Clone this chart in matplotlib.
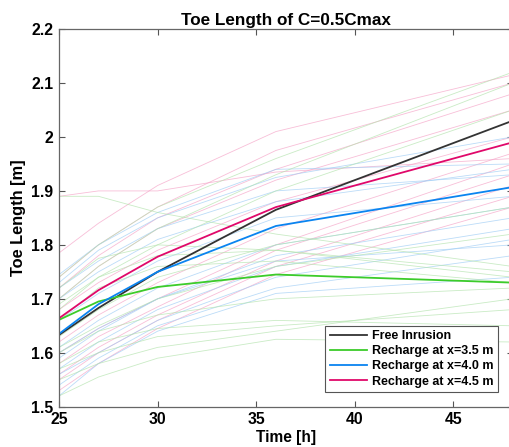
import matplotlib
matplotlib.use("Agg")
import matplotlib.pyplot as plt

plt.rcParams['font.family'] = ['Liberation Sans', 'DejaVu Sans']
plt.rcParams['font.weight'] = 'bold'

time_h = [25, 27, 30, 36, 48]

free_inrusion = [1.633, 1.683, 1.750, 1.865, 2.030]
recharge_35 = [1.661, 1.695, 1.722, 1.745, 1.730]
recharge_40 = [1.635, 1.690, 1.750, 1.835, 1.907]
recharge_45 = [1.664, 1.716, 1.778, 1.870, 1.990]

bg_pink = [
    [1.89, 1.90, 1.90, 1.935, 1.96],
    [1.785, 1.84, 1.91, 2.01, 2.115],
    [1.74, 1.80, 1.87, 1.975, 2.10],
    [1.72, 1.78, 1.85, 1.94, 2.08],
    [1.70, 1.76, 1.83, 1.92, 2.05],
    [1.60, 1.645, 1.70, 1.80, 1.95],
    [1.58, 1.63, 1.685, 1.79, 1.93],
    [1.56, 1.61, 1.67, 1.77, 1.91],
    [1.55, 1.60, 1.66, 1.76, 1.89],
    [1.53, 1.58, 1.645, 1.745, 1.87],
    [1.68, 1.73, 1.79, 1.88, 2.00],
    [1.62, 1.67, 1.73, 1.83, 1.97],
]
bg_blue = [
    [1.745, 1.80, 1.86, 1.94, 1.95],
    [1.73, 1.79, 1.85, 1.925, 2.00],
    [1.72, 1.77, 1.83, 1.90, 1.93],
    [1.70, 1.75, 1.81, 1.88, 1.94],
    [1.66, 1.71, 1.77, 1.85, 1.89],
    [1.61, 1.66, 1.72, 1.80, 1.87],
    [1.59, 1.64, 1.70, 1.78, 1.85],
    [1.57, 1.62, 1.68, 1.76, 1.83],
    [1.56, 1.60, 1.66, 1.74, 1.81],
    [1.54, 1.59, 1.65, 1.72, 1.78],
    [1.52, 1.58, 1.64, 1.71, 1.74],
    [1.60, 1.645, 1.70, 1.77, 1.80],
]
bg_green = [
    [1.89, 1.89, 1.86, 1.82, 1.76],
    [1.74, 1.80, 1.87, 1.96, 2.12],
    [1.70, 1.76, 1.83, 1.93, 2.10],
    [1.68, 1.74, 1.80, 1.90, 2.05],
    [1.72, 1.775, 1.80, 1.79, 1.74],
    [1.69, 1.74, 1.78, 1.79, 1.75],
    [1.66, 1.72, 1.76, 1.77, 1.73],
    [1.61, 1.65, 1.70, 1.76, 1.82],
    [1.58, 1.62, 1.645, 1.66, 1.65],
    [1.57, 1.60, 1.63, 1.65, 1.68],
    [1.55, 1.58, 1.61, 1.64, 1.70],
    [1.52, 1.555, 1.59, 1.625, 1.62],
    [1.60, 1.64, 1.67, 1.70, 1.72],
    [1.63, 1.68, 1.74, 1.80, 1.87],
]

xticks = [25, 30, 35, 40, 45]
yticks = [1.5, 1.6, 1.7, 1.8, 1.9, 2.0, 2.1, 2.2]
ytick_labels = ['1.5', '1.6', '1.7', '1.8', '1.9', '2', '2.1', '2.2']

fig = plt.figure(figsize=(5.10, 4.47), dpi=100)
ax = fig.add_axes([0.1157, 0.0901, 1.005 - 0.1157, 0.935 - 0.0901])

for ys in bg_pink:
    ax.plot(time_h, ys, color='#f5a3c7', lw=0.6, alpha=0.7)
for ys in bg_blue:
    ax.plot(time_h, ys, color='#9fcdf5', lw=0.6, alpha=0.7)
for ys in bg_green:
    ax.plot(time_h, ys, color='#b3e3ad', lw=0.6, alpha=0.7)

ax.plot(time_h, free_inrusion, color='#333333', lw=1.3, label='Free Inrusion')
ax.plot(time_h, recharge_35, color='#3ccc2a', lw=1.3, label='Recharge at x=3.5 m')
ax.plot(time_h, recharge_40, color='#0a84f0', lw=1.3, label='Recharge at x=4.0 m')
ax.plot(time_h, recharge_45, color='#e0086a', lw=1.3, label='Recharge at x=4.5 m')

ax.set_xlim(25, 48)
ax.set_ylim(1.5, 2.2)
ax.set_xticks(xticks)
ax.set_yticks(yticks)
ax.set_yticklabels(ytick_labels)
ax.tick_params(direction='in', top=True, right=True, length=4, width=0.8,
               color='#555555', labelsize=11.3, pad=4)
for lab in ax.get_xticklabels() + ax.get_yticklabels():
    lab.set_fontweight('bold')
for sp in ax.spines.values():
    sp.set_color('#666666')
    sp.set_linewidth(0.9)

ax.set_title('Toe Length of C=0.5Cmax', fontsize=12.3, fontweight='bold', pad=3)
ax.set_xlabel('Time [h]', fontsize=11.2, fontweight='bold', labelpad=2)
ax.set_ylabel('Toe Length [m]', fontsize=11.8, fontweight='bold', labelpad=4)

leg = ax.legend(loc='lower right', bbox_to_anchor=(0.968, 0.039),
                prop={'weight': 'bold', 'size': 9}, fancybox=False,
                framealpha=1, edgecolor='#555555', handlelength=3.0,
                borderpad=0.35, labelspacing=0.25, handletextpad=0.4,
                borderaxespad=0.0)
leg.get_frame().set_linewidth(0.8)

fig.savefig('out.png', dpi=100)
